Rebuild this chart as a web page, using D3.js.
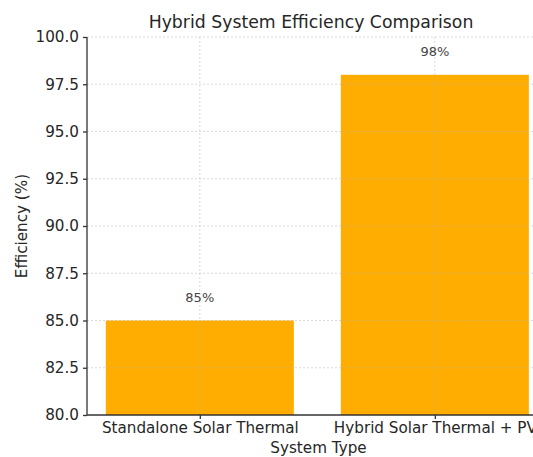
<!DOCTYPE html>
<html lang="en">
<head>
    <meta charset="UTF-8">
    <title>Hybrid System Efficiency Comparison</title>
    <script src="https://d3js.org/d3.v7.min.js"></script>
</head>
<style>
    body { margin: 0; background: #fff; }
    text { font-family: "DejaVu Sans", sans-serif; fill: #262626; }
</style>
<body>
<svg id="main" width="533" height="457"></svg>
<script>
    const systems = ['Standalone Solar Thermal', 'Hybrid Solar Thermal + PV'];
    const efficiency = [85, 98];
    const yTicks = [80, 82.5, 85, 87.5, 90, 92.5, 95, 97.5, 100];

    let svg = d3.select('svg#main');
    let mLeft = 87, mRight = 550, mTop = 37, mBottom = 415;

    let x = d3.scaleLinear().domain([-0.48, 1.49]).range([mLeft, mRight]);
    let y = d3.scaleLinear().domain([80, 100]).range([mBottom, mTop]);
    let barW = x(0.8) - x(0);

    // bars
    svg.selectAll('rect.bar')
        .data(efficiency)
        .enter()
        .append('rect')
        .attr('class', 'bar')
        .attr('x', (d, i) => x(i) - barW / 2)
        .attr('y', d => y(d))
        .attr('width', barW)
        .attr('height', d => y(80) - y(d))
        .attr('fill', '#ffad00');

    // grid on top, faint dashed
    let grid = svg.append('g').attr('stroke', '#b0b0b0').attr('stroke-opacity', 0.6)
        .attr('stroke-width', 0.8).attr('stroke-dasharray', '2,2');
    grid.selectAll('line.h').data(yTicks.slice(1)).enter().append('line')
        .attr('x1', mLeft).attr('x2', mRight)
        .attr('y1', d => y(d)).attr('y2', d => y(d));
    grid.selectAll('line.v').data(systems).enter().append('line')
        .attr('x1', (d, i) => x(i)).attr('x2', (d, i) => x(i))
        .attr('y1', mTop).attr('y2', mBottom);

    // y axis
    let yAxis = svg.append('g')
        .attr('transform', 'translate(' + mLeft + ',0)')
        .call(d3.axisLeft(y).tickValues(yTicks).tickFormat(d3.format('.1f')).tickSize(4).tickPadding(4));
    yAxis.selectAll('text').style('font-size', '15.2px');

    // x axis
    let xAxis = svg.append('g')
        .attr('transform', 'translate(0,' + mBottom + ')')
        .call(d3.axisBottom(x).tickValues([0, 1]).tickFormat((d, i) => systems[i]).tickSize(4).tickPadding(3));
    xAxis.selectAll('text').style('font-size', '15.2px');
    xAxis.select('.domain').attr('d', 'M' + mLeft + ',0H' + mRight);
    yAxis.select('.domain').attr('d', 'M0,' + mTop + 'V' + mBottom);
    svg.selectAll('.domain, .tick line').attr('stroke', '#333').attr('stroke-width', 1.3);

    // value labels
    svg.selectAll('text.val')
        .data(efficiency)
        .enter()
        .append('text')
        .attr('class', 'val')
        .attr('x', (d, i) => x(i))
        .attr('y', d => y(d) - 19)
        .attr('text-anchor', 'middle')
        .style('font-size', '13px')
        .style('fill', '#444')
        .text(d => d + '%');

    // titles
    svg.append('text')
        .attr('x', 311).attr('y', 28)
        .attr('text-anchor', 'middle')
        .style('font-size', '17.3px')
        .text('Hybrid System Efficiency Comparison');

    svg.append('text')
        .attr('x', (mLeft + mRight) / 2).attr('y', 453)
        .attr('text-anchor', 'middle')
        .style('font-size', '15.2px')
        .text('System Type');

    svg.append('text')
        .attr('transform', 'translate(27,' + ((mTop + mBottom) / 2) + ') rotate(-90)')
        .attr('text-anchor', 'middle')
        .style('font-size', '15.2px')
        .text('Efficiency (%)');
</script>
</body>
</html>
